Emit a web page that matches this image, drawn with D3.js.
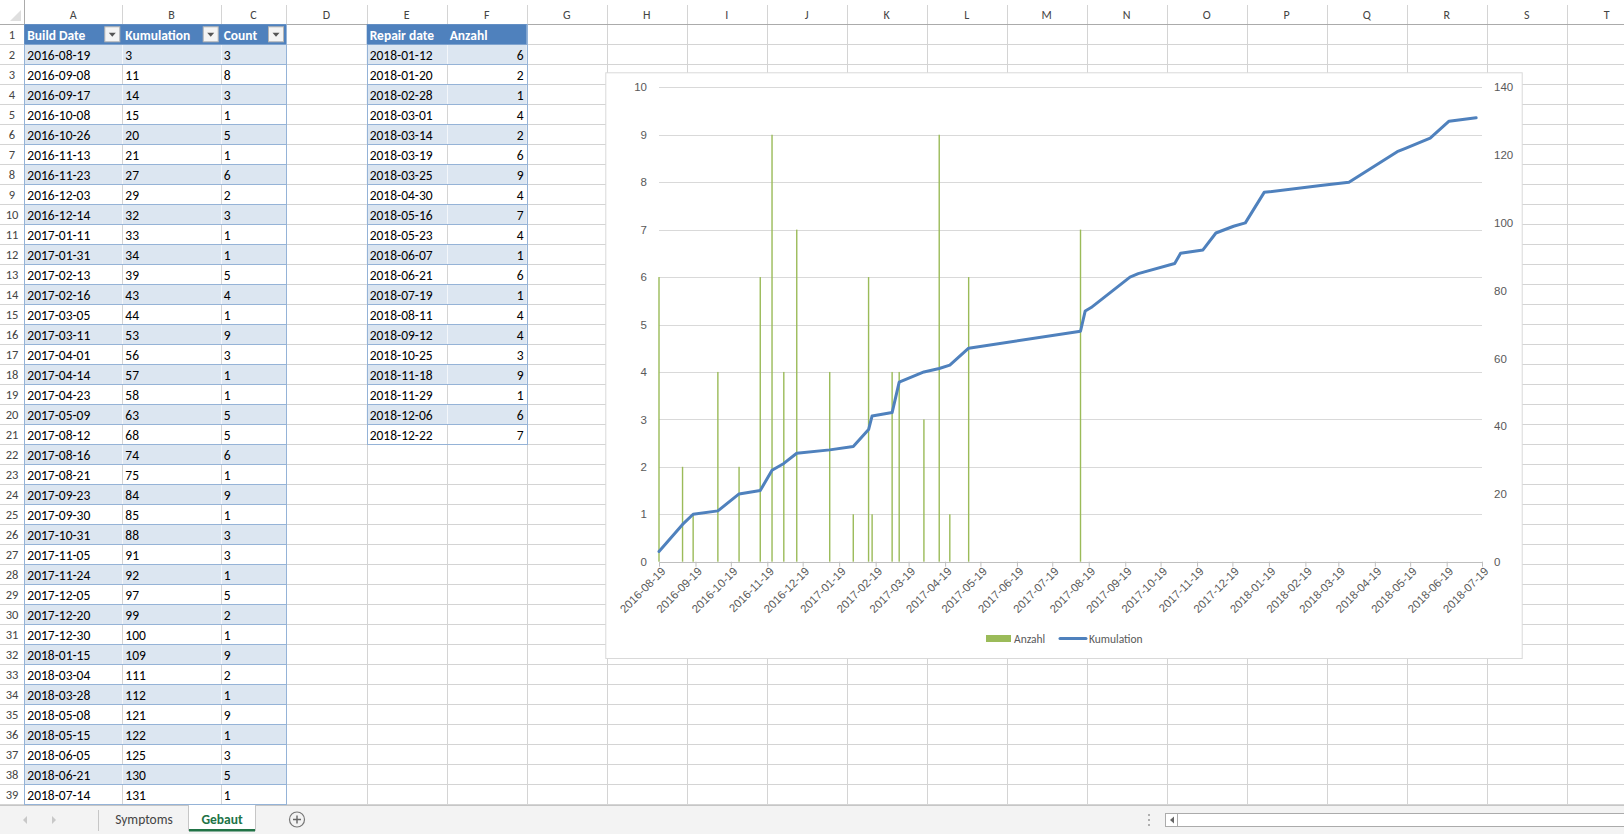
<!DOCTYPE html>
<html>
<head>
<meta charset="utf-8">
<script src="https://cdn.jsdelivr.net/npm/d3@7"></script>
<style>
html, body { margin:0; padding:0; background:#fff; overflow:hidden; }
svg { display:block; font-family: Calibri, Carlito, Lato, sans-serif; }
</style>
</head>
<body>
<svg id="svg" width="1624" height="834"></svg>
<script>
// ---- data ----
var buildDates = ["2016-08-19","2016-09-08","2016-09-17","2016-10-08","2016-10-26","2016-11-13","2016-11-23","2016-12-03","2016-12-14","2017-01-11",
                  "2017-01-31","2017-02-13","2017-02-16","2017-03-05","2017-03-11","2017-04-01","2017-04-14","2017-04-23","2017-05-09","2017-08-12",
                  "2017-08-16","2017-08-21","2017-09-23","2017-09-30","2017-10-31","2017-11-05","2017-11-24","2017-12-05","2017-12-20","2017-12-30",
                  "2018-01-15","2018-03-04","2018-03-28","2018-05-08","2018-05-15","2018-06-05","2018-06-21","2018-07-14"];
var kumulation = [3,11,14,15,20,21,27,29,32,33,34,39,43,44,53,56,57,58,63,68,74,75,84,85,88,91,92,97,99,100,109,111,112,121,122,125,130,131];
var count      = [3,8,3,1,5,1,6,2,3,1,1,5,4,1,9,3,1,1,5,5,6,1,9,1,3,3,1,5,2,1,9,2,1,9,1,3,5,1];

var repairDates = ["2018-01-12","2018-01-20","2018-02-28","2018-03-01","2018-03-14","2018-03-19","2018-03-25","2018-04-30","2018-05-16","2018-05-23",
                   "2018-06-07","2018-06-21","2018-07-19","2018-08-11","2018-09-12","2018-10-25","2018-11-18","2018-11-29","2018-12-06","2018-12-22"];
var anzahl      = [6,2,1,4,2,6,9,4,7,4,1,6,1,4,4,3,9,1,6,7];

var table1Head = ["Build Date","Kumulation","Count"];
var table2Head = ["Repair date","Anzahl"];

var xTicks = ["2016-08-19","2016-09-19","2016-10-19","2016-11-19","2016-12-19","2017-01-19","2017-02-19","2017-03-19",
              "2017-04-19","2017-05-19","2017-06-19","2017-07-19","2017-08-19","2017-09-19","2017-10-19","2017-11-19",
              "2017-12-19","2018-01-19","2018-02-19","2018-03-19","2018-04-19","2018-05-19","2018-06-19","2018-07-19"];
var leftTicks  = [0,1,2,3,4,5,6,7,8,9,10];
var rightTicks = [0,20,40,60,80,100,120,140];

var colNames = ["A","B","C","D","E","F","G","H","I","J","K","L","M","N","O","P","Q","R","S","T"];
var sheetTabs = ["Symptoms","Gebaut"];

// ---- sheet geometry ----
var svg = d3.select("#svg");
var parse = d3.utcParse("%Y-%m-%d"),
    fmt   = d3.utcFormat("%Y-%m-%d");

var W = 1624, H = 834;
var rowHdrW = 24.3, colHdrH = 24.3, rowH = 20, nRows = 39, barTop = 805;
var widths = [98, 98.4, 65.3, 80.7, 80, 80];
while (widths.length < colNames.length) widths.push(80);
var colX = [rowHdrW];
widths.forEach(function(w, i){ colX.push(colX[i] + w); });
function rowTop(r) { return colHdrH + (r-1)*rowH; }

var grid  = "#d4d4d4",
    hdrLn = "#ababab",
    hdrTx = "#444444",
    tblHd = "#4f81bd",
    band  = "#dce6f1",
    tblLn = "#95b3d7";

svg.append("rect").attr("width", W).attr("height", H).attr("fill", "#fff");

// cell grid
var gGrid = svg.append("g").attr("shape-rendering", "crispEdges");
gGrid.selectAll(".v").data(colX.slice(1)).enter().append("line")
    .attr("x1", d=>Math.round(d)+0.5).attr("x2", d=>Math.round(d)+0.5)
    .attr("y1", 5).attr("y2", barTop).attr("stroke", grid);
gGrid.selectAll(".h").data(d3.range(1, nRows+1)).enter().append("line")
    .attr("x1", 0).attr("x2", W)
    .attr("y1", r=>Math.round(rowTop(r)+rowH)+0.5).attr("y2", r=>Math.round(rowTop(r)+rowH)+0.5)
    .attr("stroke", grid);

// headers
gGrid.append("line").attr("x1", 0).attr("x2", W).attr("y1", Math.round(colHdrH)+0.5).attr("y2", Math.round(colHdrH)+0.5).attr("stroke", hdrLn);
gGrid.append("line").attr("x1", Math.round(rowHdrW)+0.5).attr("x2", Math.round(rowHdrW)+0.5).attr("y1", 0).attr("y2", barTop).attr("stroke", hdrLn);
svg.append("path").attr("d", "M21 10L21 21L10 21Z").attr("fill", "#dfdfdf");

svg.append("g").attr("font-size", 12).attr("fill", hdrTx).attr("text-anchor", "middle")
  .selectAll("text").data(colNames).enter().append("text")
    .attr("x", (d,i)=>colX[i] + widths[i]/2).attr("y", 18.5).text(d=>d);

svg.append("g").attr("font-size", 12.5).attr("fill", hdrTx).attr("text-anchor", "middle")
  .selectAll("text").data(d3.range(1, nRows+1)).enter().append("text")
    .attr("x", 12).attr("y", r=>rowTop(r)+15).text(d=>d);

// ---- tables ----
function table(c0, head, cols, align, filters) {
  var n = cols[0].length,
      x0 = colX[c0], x1 = colX[c0+head.length],
      g = svg.append("g");
  var rows = d3.range(n);
  // banding
  g.selectAll(".band").data(rows.filter(i=>i%2===0)).enter().append("rect")
      .attr("x", x0).attr("y", i=>rowTop(i+2)).attr("width", x1-x0).attr("height", rowH).attr("fill", band);
  // white separators inside band rows
  d3.range(1, head.length).forEach(function(k){
    g.selectAll(null).data(rows.filter(i=>i%2===0)).enter().append("line")
      .attr("shape-rendering", "crispEdges")
      .attr("x1", Math.round(colX[c0+k])+0.5).attr("x2", Math.round(colX[c0+k])+0.5)
      .attr("y1", i=>rowTop(i+2)).attr("y2", i=>rowTop(i+2)+rowH).attr("stroke", "#f4f7fb");
  });
  // horizontal rules
  g.selectAll(".hr").data(d3.range(n+1)).enter().append("line")
      .attr("shape-rendering", "crispEdges")
      .attr("x1", x0).attr("x2", x1)
      .attr("y1", i=>Math.round(rowTop(i+2))+0.5).attr("y2", i=>Math.round(rowTop(i+2))+0.5)
      .attr("stroke", tblLn);
  g.append("rect").attr("shape-rendering", "crispEdges")
      .attr("x", Math.round(x0)+0.5).attr("y", Math.round(rowTop(1))+0.5)
      .attr("width", Math.round(x1)-Math.round(x0)).attr("height", Math.round(rowH*(n+1)))
      .attr("fill", "none").attr("stroke", tblLn);
  // header
  g.append("rect").attr("x", x0).attr("y", rowTop(1)).attr("width", x1-x0).attr("height", rowH).attr("fill", tblHd);
  g.selectAll(".hd").data(head).enter().append("text")
      .attr("x", (d,k)=>colX[c0+k]+3).attr("y", rowTop(1)+15.5)
      .attr("font-size", 13.5).attr("font-weight", "bold").attr("fill", "#fff").text(d=>d);
  if (filters) {
    var fb = g.selectAll(".fb").data(head).enter().append("g")
        .attr("transform", (d,k)=>"translate(" + (colX[c0+k+1]-17.5) + "," + (rowTop(1)+2.5) + ")");
    fb.append("rect").attr("width", 15).attr("height", 15).attr("fill", "#f4f4f4").attr("stroke", "#b4b4b4");
    fb.append("path").attr("d", "M4 6L11 6L7.5 10Z").attr("fill", "#555");
  }
  // body
  cols.forEach(function(col, k){
    g.selectAll(null).data(col).enter().append("text")
      .attr("x", align[k]==="end" ? colX[c0+k+1]-3 : colX[c0+k]+3)
      .attr("text-anchor", align[k])
      .attr("y", (d,i)=>rowTop(i+2)+15.5)
      .attr("font-size", 13.5).attr("fill", "#000").text(d=>d);
  });
}
table(0, table1Head, [buildDates, kumulation, count], ["start","start","start"], true);
table(4, table2Head, [repairDates, anzahl], ["start","end"], false);

// ---- chart ----
var back  = "#ffffff",
    frame = "#d9d9d9",
    gridC = "#d9d9d9",
    axisC = "#bfbfbf",
    label = "#595959",
    bar   = "#9bbb59",
    line  = "#4f81bd";

var cx0 = 605.3, cy0 = 72.3, cx1 = 1521.7, cy1 = 658,
    px0 = 659, px1 = 1482, pyTop = 87.3, pyBot = 561.7;

var chart = svg.append("g");
chart.append("rect").attr("x", cx0+0.5).attr("y", cy0+0.5).attr("width", cx1-cx0).attr("height", cy1-cy0)
    .attr("fill", back).attr("stroke", frame);

var x  = d3.scaleUtc().domain([parse(xTicks[0]), parse(xTicks[xTicks.length-1])]).range([px0, px1]),
    yL = d3.scaleLinear().domain([0, 10]).range([pyBot, pyTop]),
    yR = d3.scaleLinear().domain([0, 140]).range([pyBot, pyTop]);

chart.append("g").selectAll("line").data(leftTicks.slice(1)).enter().append("line")
    .attr("shape-rendering", "crispEdges")
    .attr("x1", px0).attr("x2", px1).attr("y1", d=>Math.round(yL(d))+0.5).attr("y2", d=>Math.round(yL(d))+0.5)
    .attr("stroke", gridC);

// bars: Anzahl plotted against the first build dates
chart.append("g").selectAll("rect").data(anzahl).enter().append("rect")
    .attr("x", (d,i)=>x(parse(buildDates[i]))-0.7).attr("width", 1.4)
    .attr("y", d=>yL(d)).attr("height", d=>yL(0)-yL(d)).attr("fill", bar);

// x axis
var xa = chart.append("g").attr("transform", "translate(0," + pyBot + ")")
    .call(d3.axisBottom(x).tickValues(xTicks.map(parse)).tickFormat(fmt).tickSize(5).tickSizeOuter(0));
xa.select(".domain").attr("stroke", axisC).attr("shape-rendering", "crispEdges");
xa.selectAll(".tick line").attr("stroke", axisC);
xa.selectAll(".tick text")
    .attr("x", 0).attr("y", 0).attr("dy", "0.35em").attr("text-anchor", "end")
    .attr("transform", "translate(4,7.5) rotate(-45)")
    .attr("fill", label).attr("font-size", 11.5).attr("font-family", null);

// value axes
var la = chart.append("g").attr("transform", "translate(" + px0 + ",0)")
    .call(d3.axisLeft(yL).tickValues(leftTicks).tickSize(0).tickPadding(12));
var ra = chart.append("g").attr("transform", "translate(" + px1 + ",0)")
    .call(d3.axisRight(yR).tickValues(rightTicks).tickSize(0).tickPadding(12));
[la, ra].forEach(function(a){
  a.select(".domain").remove();
  a.selectAll("text").attr("fill", label).attr("font-size", 11.5).attr("font-family", null);
});

// cumulative line
chart.append("path").datum(buildDates.map((d,i)=>[parse(d), kumulation[i]]))
    .attr("d", d3.line().x(d=>x(d[0])).y(d=>yR(d[1])))
    .attr("fill", "none").attr("stroke", line).attr("stroke-width", 3)
    .attr("stroke-linejoin", "round").attr("stroke-linecap", "round");

// legend
var lg = chart.append("g").attr("font-size", 11.5).attr("fill", label);
lg.append("rect").attr("x", 986).attr("y", 635).attr("width", 25).attr("height", 7).attr("fill", bar);
lg.append("text").attr("x", 1014).attr("y", 642.5).text("Anzahl");
lg.append("line").attr("x1", 1060).attr("x2", 1086).attr("y1", 638.5).attr("y2", 638.5)
    .attr("stroke", line).attr("stroke-width", 3).attr("stroke-linecap", "round");
lg.append("text").attr("x", 1089).attr("y", 642.5).text("Kumulation");

// ---- sheet tab bar ----
var tb = svg.append("g");
tb.append("rect").attr("x", 0).attr("y", barTop).attr("width", W).attr("height", H-barTop).attr("fill", "#f3f3f3");
tb.append("line").attr("x1", 0).attr("x2", W).attr("y1", barTop+0.5).attr("y2", barTop+0.5).attr("stroke", "#c6c6c6");
tb.append("path").attr("d", "M27 816L23 820L27 824Z").attr("fill", "#c8c8c8");
tb.append("path").attr("d", "M52 816L56 820L52 824Z").attr("fill", "#c8c8c8");
tb.append("line").attr("x1", 98.5).attr("x2", 98.5).attr("y1", 810).attr("y2", 831).attr("stroke", "#c6c6c6");
tb.append("rect").attr("x", 188).attr("y", barTop).attr("width", 68).attr("height", 26).attr("fill", "#fff");
tb.append("line").attr("x1", 188.5).attr("x2", 188.5).attr("y1", barTop).attr("y2", 831).attr("stroke", "#c6c6c6");
tb.append("line").attr("x1", 255.5).attr("x2", 255.5).attr("y1", barTop).attr("y2", 831).attr("stroke", "#c6c6c6");
tb.append("rect").attr("x", 189).attr("y", 829).attr("width", 66).attr("height", 2.5).attr("fill", "#217346");
tb.selectAll("text").data(sheetTabs).enter().append("text")
    .attr("x", (d,i)=>[144, 222][i]).attr("y", 824).attr("text-anchor", "middle").attr("font-size", 13.5)
    .attr("font-weight", (d,i)=>i===1 ? "bold" : "normal")
    .attr("fill", (d,i)=>i===1 ? "#217346" : "#444").text(d=>d);
tb.append("circle").attr("cx", 297).attr("cy", 819.5).attr("r", 7.5).attr("fill", "none").attr("stroke", "#777").attr("stroke-width", 1.2);
tb.append("path").attr("d", "M293 819.5H301M297 815.5V823.5").attr("stroke", "#666").attr("stroke-width", 1.4);
tb.selectAll("circle.dot").data([815, 820, 825]).enter().append("circle")
    .attr("cx", 1149).attr("cy", d=>d).attr("r", 1).attr("fill", "#999");
tb.append("rect").attr("x", 1165.5).attr("y", 813.5).attr("width", W-1165).attr("height", 13)
    .attr("fill", "#fff").attr("stroke", "#ababab");
tb.append("line").attr("x1", 1177.5).attr("x2", 1177.5).attr("y1", 813.5).attr("y2", 826.5).attr("stroke", "#ababab");
tb.append("path").attr("d", "M1174 816.5L1170 820L1174 823.5Z").attr("fill", "#666");
</script>
</body>
</html>
